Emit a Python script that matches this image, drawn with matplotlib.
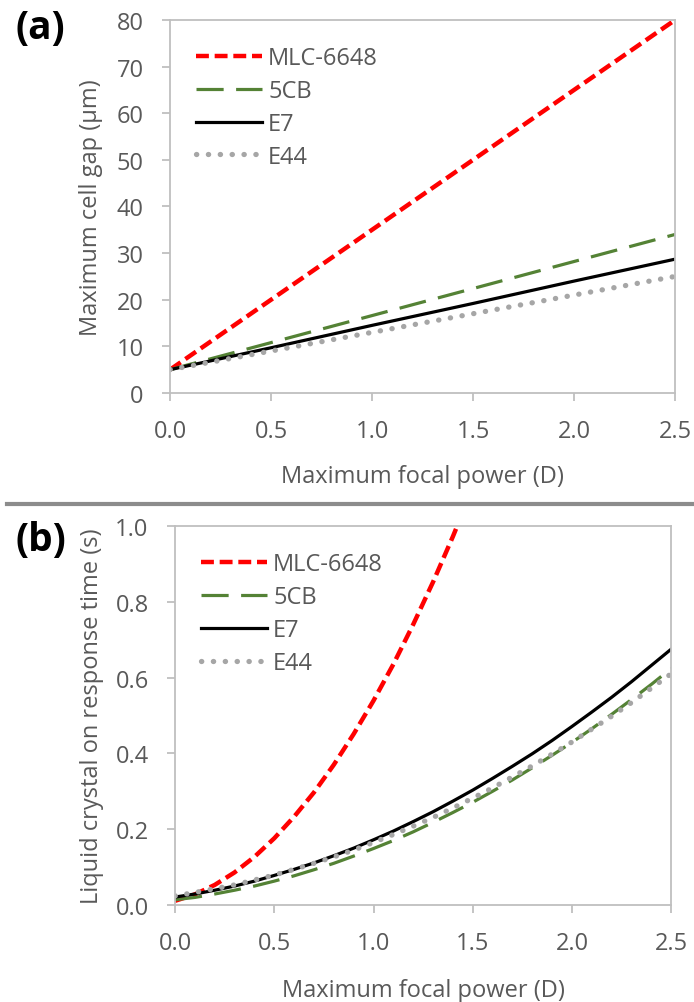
import matplotlib
matplotlib.use("Agg")
import matplotlib.pyplot as plt
from matplotlib.lines import Line2D
from matplotlib.ticker import FormatStrFormatter

plt.rcParams['font.family'] = ['Open Sans', 'DejaVu Sans']

# focal power (D)
power = [0.0, 0.1, 0.2, 0.3, 0.4, 0.5, 0.6, 0.7, 0.8, 0.9, 1.0, 1.1, 1.2,
         1.3, 1.4, 1.5, 1.6, 1.7, 1.8, 1.9, 2.0, 2.1, 2.2, 2.3, 2.4, 2.5]

names = ['MLC-6648', '5CB', 'E7', 'E44']

# (a) maximum cell gap (um), straight lines
gap_power = [0.0, 0.5, 1.0, 1.5, 2.0, 2.5]
gap_mlc = [5.0, 20.0, 35.0, 50.0, 65.0, 80.0]
gap_5cb = [5.0, 10.8, 16.6, 22.4, 28.2, 34.0]
gap_e7 = [5.0, 9.7, 14.5, 19.2, 24.0, 28.7]
gap_e44 = [5.0, 9.0, 13.0, 17.0, 21.0, 25.0]

# (b) response time (s)
mlc_power = [0.0, 0.1, 0.2, 0.3, 0.4, 0.5, 0.6, 0.7, 0.8, 0.9, 1.0, 1.1,
             1.2, 1.3, 1.4, 1.5]
t_mlc = [0.011, 0.028, 0.053, 0.086, 0.127, 0.176, 0.233, 0.297, 0.370,
         0.451, 0.539, 0.635, 0.740, 0.852, 0.972, 1.100]
t_5cb = [0.014, 0.020, 0.029, 0.039, 0.050, 0.063, 0.077, 0.093, 0.110,
         0.129, 0.149, 0.170, 0.193, 0.218, 0.244, 0.271, 0.300, 0.330,
         0.362, 0.395, 0.429, 0.465, 0.503, 0.542, 0.582, 0.624]
t_e7 = [0.021, 0.029, 0.039, 0.050, 0.063, 0.078, 0.094, 0.111, 0.130,
        0.150, 0.172, 0.195, 0.220, 0.246, 0.274, 0.303, 0.334, 0.366,
        0.399, 0.434, 0.471, 0.509, 0.548, 0.589, 0.632, 0.675]
t_e44 = [0.024, 0.033, 0.043, 0.053, 0.066, 0.079, 0.094, 0.110, 0.127,
         0.145, 0.165, 0.186, 0.208, 0.231, 0.256, 0.282, 0.309, 0.338,
         0.367, 0.398, 0.430, 0.464, 0.498, 0.534, 0.572, 0.610]

txt = '#595959'
spine = '#bfbfbf'
fs = 17

styles = [
    dict(color='#ff0000', lw=3.2, dashes=(2.9, 1.3), dash_capstyle='butt'),
    dict(color='#548235', lw=2.3, dashes=(8.5, 3.9), dash_capstyle='butt'),
    dict(color='#000000', lw=2.3, ls='-'),
    dict(color='#a6a6a6', lw=3.8, dashes=(0.05, 2.2), dash_capstyle='round'),
]


def style_axes(ax, lpad):
    for s in ax.spines.values():
        s.set_color(spine)
        s.set_linewidth(1.3)
    ax.tick_params(direction='out', length=6, width=1.3, color=spine,
                   labelcolor=txt, labelsize=fs, pad=13)
    ax.set_xlim(0, 2.5)
    ax.set_xticks([0.0, 0.5, 1.0, 1.5, 2.0, 2.5])
    ax.xaxis.set_major_formatter(FormatStrFormatter('%.1f'))
    ax.set_xlabel('Maximum focal power (D)', color=txt, fontsize=fs,
                  labelpad=lpad)


fig = plt.figure(figsize=(6.94, 10.03), dpi=100)

ax1 = fig.add_axes([0.245, 0.6072, 0.728, 0.372])
for y, st, nm in zip([gap_mlc, gap_5cb, gap_e7, gap_e44], styles, names):
    ax1.plot(gap_power, y, label=nm, **st)
style_axes(ax1, 15)
ax1.set_ylim(0, 80)
ax1.set_yticks(range(0, 81, 10))
ax1.set_ylabel('Maximum cell gap (µm)', color=txt, fontsize=fs, labelpad=10)

ax2 = fig.add_axes([0.2522, 0.0967, 0.715, 0.378])
xs = [mlc_power, power, power, power]
for x, y, st, nm in zip(xs, [t_mlc, t_5cb, t_e7, t_e44], styles, names):
    ax2.plot(x, y, label=nm, **st)
style_axes(ax2, 16)
ax2.set_ylim(0, 1.0)
ax2.set_yticks([0.0, 0.2, 0.4, 0.6, 0.8, 1.0])
ax2.yaxis.set_major_formatter(FormatStrFormatter('%.1f'))
ax2.set_ylabel('Liquid crystal on response time (s)', color=txt, fontsize=fs,
               labelpad=8)

for ax in (ax1, ax2):
    leg = ax.legend(loc='upper left', frameon=False, fontsize=fs,
                    handlelength=2.8, handletextpad=0.25, labelspacing=0.38,
                    borderaxespad=0.6, borderpad=0.5)
    for t in leg.get_texts():
        t.set_color(txt)

fig.add_artist(Line2D([0.01, 1.0], [0.4965, 0.4965], transform=fig.transFigure,
                      color='#8c8c8c', lw=3))

fig.text(0.022, 1 - 28 / 1003, '(a)', fontsize=28, fontweight='bold', va='center')
fig.text(0.022, 1 - 541 / 1003, '(b)', fontsize=28, fontweight='bold', va='center')

fig.savefig('out.png', dpi=100)
